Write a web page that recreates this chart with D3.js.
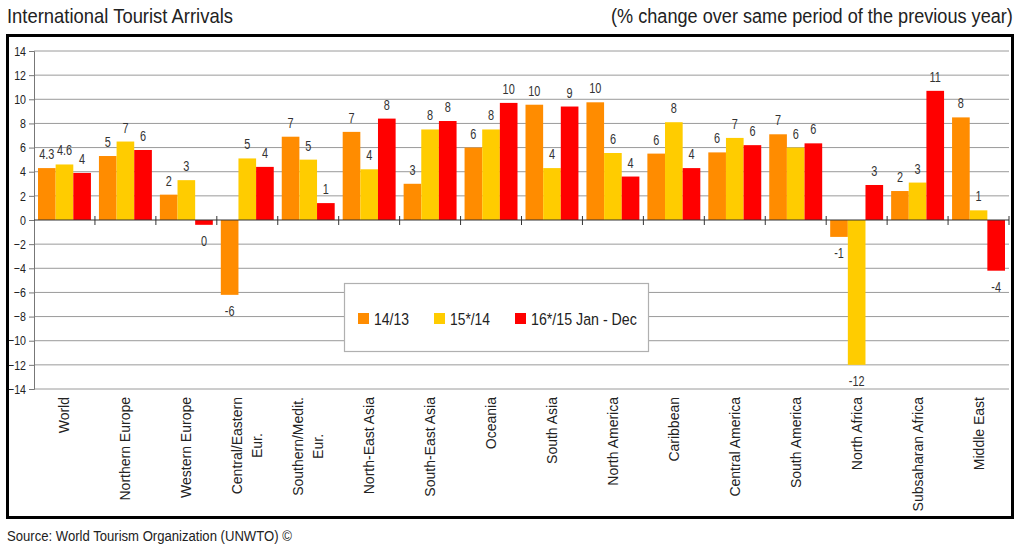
<!DOCTYPE html>
<html><head><meta charset="utf-8">
<script src="https://cdn.jsdelivr.net/npm/d3@7"></script>
<style>
html,body{margin:0;padding:0;background:#fff;}
svg text{font-family:"Liberation Sans Narrow","Arial Narrow","Liberation Sans",Arial,sans-serif;}
</style></head>
<body>
<svg id="chart" width="1023" height="552"></svg>
<script>
const categories = ["World","Northern Europe","Western Europe","Central/Eastern\nEur.","Southern/Medit.\nEur.","North-East Asia","South-East Asia","Oceania","South Asia","North America","Caribbean","Central America","South America","North Africa","Subsaharan Africa","Middle East"];
const seriesNames = ["14/13","15*/14","16*/15 Jan - Dec"];
const seriesColors = ["#FF8C00","#FFCC00","#FF0000"];
const v1413 = [4.3,5.3,2.1,-6.2,6.9,7.3,3.0,6.0,9.55,9.75,5.5,5.6,7.1,-1.4,2.4,8.5];
const v1514 = [4.6,6.5,3.3,5.1,5.0,4.2,7.5,7.5,4.3,5.55,8.1,6.8,6.0,-12.0,3.1,0.8];
const v1615 = [3.9,5.8,-0.4,4.4,1.4,8.4,8.2,9.7,9.4,3.6,4.3,6.2,6.35,2.9,10.7,-4.2];
const l1413 = ["4.3","5","2","-6","7","7","3","6","10","10","6","6","7","-1","2","8"];
const l1514 = ["4.6","7","3","5","5","4","8","8","4","6","8","7","6","-12","3","1"];
const l1615 = ["4","6","0","4","1","8","8","10","9","4","4","6","6","3","11","-4"];
const yTicks = [-14,-12,-10,-8,-6,-4,-2,0,2,4,6,8,10,12,14];

const values = [v1413, v1514, v1615];
const labels = [l1413, l1514, l1615];

// place a text at (x,y) and squeeze it horizontally to a target width
function fitText(parent, str, x, y, size, width){
  const t = parent.append("text").attr("font-size",size).attr("fill","#222").text(str);
  const w = t.node().getComputedTextLength();
  t.attr("transform",`translate(${x},${y}) scale(${width/w},1)`);
  return t;
}
// squeeze anchored-middle texts by a factor around their x
function condense(sel, k){
  sel.each(function(){
    const s = d3.select(this);
    const x = +s.attr("x")||0, yy = +s.attr("y")||0;
    s.attr("x",0).attr("y",0).attr("transform",`translate(${x},${yy}) scale(${k},1)`);
  });
}

const svg = d3.select("#chart");
svg.append("rect").attr("width",1023).attr("height",552).attr("fill","#fff");

fitText(svg,"International Tourist Arrivals",7,23,21,226);
fitText(svg,"(% change over same period of the previous year)",611,23,21,402);

const x0 = d3.scaleBand().domain(categories).range([34,1009]).padding(0);
const x1 = d3.scaleBand().domain(seriesNames).range([4, x0.bandwidth()-4]).padding(0);
const y = d3.scaleLinear().domain([-14,14]).range([389,51]);

// gridlines
svg.append("g").selectAll("line").data(yTicks.filter(d=>d!==0)).join("line")
  .attr("x1",34).attr("x2",1009).attr("y1",d=>y(d)).attr("y2",d=>y(d))
  .attr("stroke","#9a9a9a").attr("stroke-width",1);

// y axis
const yAxis = d3.axisLeft(y).tickValues(yTicks).tickSize(5).tickPadding(3);
const gy = svg.append("g").attr("transform","translate(34,0)").call(yAxis);
gy.select(".domain").attr("stroke","#777");
gy.selectAll(".tick line").attr("stroke","#777");
gy.selectAll(".tick text").attr("font-size",13).attr("fill","#222")
  .attr("font-family","'Liberation Sans',sans-serif")
  .attr("transform","translate(-8,0) scale(0.82,1)").attr("x",0);

// bars
const groups = svg.append("g").selectAll("g").data(categories).join("g")
  .attr("transform",d=>`translate(${x0(d)},0)`);
seriesNames.forEach((s,si)=>{
  groups.append("rect")
    .attr("x",x1(s)).attr("width",x1.bandwidth())
    .attr("y",(d,i)=>y(Math.max(0,values[si][i])))
    .attr("height",(d,i)=>Math.abs(y(values[si][i])-y(0)))
    .attr("fill",seriesColors[si]);
  const t = groups.append("text")
    .attr("x",x1(s)+x1.bandwidth()/2)
    .attr("y",(d,i)=>values[si][i]>=0 ? y(values[si][i])-9 : y(values[si][i])+21)
    .attr("text-anchor","middle").attr("font-size",14).attr("fill","#333")
    .text((d,i)=>labels[si][i]);
  condense(t, 0.78);
});

// zero line with category ticks
svg.append("line").attr("x1",34).attr("x2",1009).attr("y1",y(0)).attr("y2",y(0))
  .attr("stroke","#333").attr("stroke-width",1.2);
svg.append("g").selectAll("line").data(categories).join("line")
  .attr("x1",d=>x0(d)+x0.bandwidth()).attr("x2",d=>x0(d)+x0.bandwidth())
  .attr("y1",y(0)-4).attr("y2",y(0)+5).attr("stroke","#333");

// x labels (rotated, multi-line labels centred on the longest line)
const xl = svg.append("g").selectAll("text").data(categories).join("text")
  .attr("font-size",14).attr("fill","#222").attr("text-anchor","middle")
  .attr("transform",d=>`translate(${x0(d)+x0.bandwidth()/2},397) rotate(-90)`);
xl.each(function(d){
  const lines = d.split("\n");
  const t = d3.select(this);
  const spans = lines.map((ln,k)=>{
    const off = (k-(lines.length-1)/2)*20;
    return t.append("tspan").attr("y",off+5).text(ln);
  });
  const L = d3.max(spans, s=>s.node().getComputedTextLength());
  spans.forEach(s=>s.attr("x",-L/2));
});

// border
svg.append("rect").attr("x",7.5).attr("y",35.5).attr("width",1005).attr("height",482)
  .attr("fill","none").attr("stroke","#000").attr("stroke-width",3);

// legend
const lg = svg.append("g").attr("transform","translate(344,283)");
lg.append("rect").attr("x",0.5).attr("y",0.5).attr("width",304).attr("height",68)
  .attr("fill","#fff").attr("stroke","#b0b0b0").attr("stroke-width",1.2);
const legX = [14,90,171];
const legW = [35,40,106];
seriesNames.forEach((s,i)=>{
  lg.append("rect").attr("x",legX[i]).attr("y",30).attr("width",11).attr("height",11).attr("fill",seriesColors[i]);
  fitText(lg, s, legX[i]+16, 42, 16.5, legW[i]);
});

fitText(svg,"Source: World Tourism Organization (UNWTO) ©",7,541,15,285);
</script>
</body></html>
